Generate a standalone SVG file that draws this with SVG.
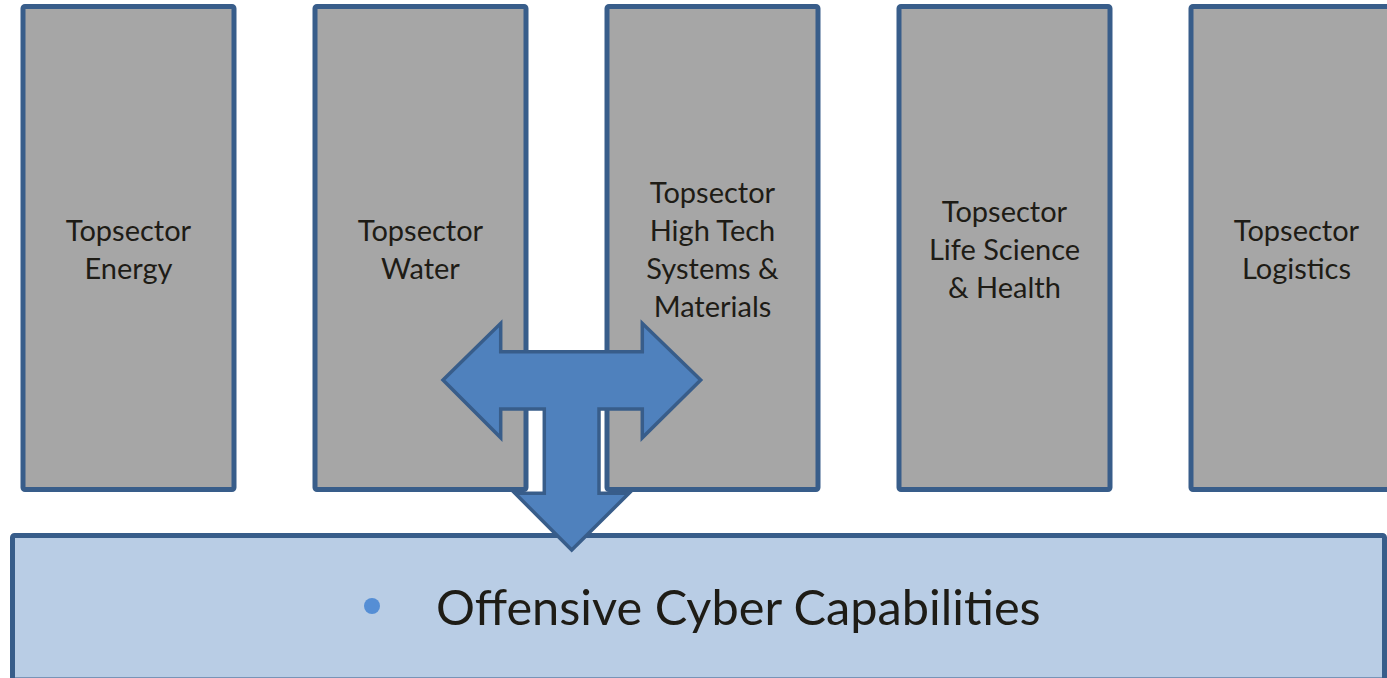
<svg xmlns="http://www.w3.org/2000/svg" width="1387" height="678" viewBox="0 0 1387 678">
<style>
.box{fill:#A6A6A6;stroke:#385D8A;stroke-width:5}
.bar{fill:#B9CDE5;stroke:#385D8A;stroke-width:5}
.lbl{font-family:Lato,"Liberation Sans",sans-serif;font-size:29px;fill:#1e1c16;text-anchor:middle}
.big{font-family:Lato,"Liberation Sans",sans-serif;font-size:48.7px;fill:#1e1c16}
.arrow{fill:#4F81BD;stroke:#385D8A;stroke-width:3.5;stroke-linejoin:miter}
</style>
<rect width="1387" height="678" fill="#ffffff"/>
<g id="energy">
<rect class="box" x="23" y="6.5" width="211" height="483" rx="2"/>
<text class="lbl" x="128.5" y="240.5">Topsector</text>
<text class="lbl" x="128.5" y="278.5">Energy</text>
</g>
<g id="water">
<rect class="box" x="315" y="6.5" width="211" height="483" rx="2"/>
<text class="lbl" x="420.5" y="240.5">Topsector</text>
<text class="lbl" x="420.5" y="278.5">Water</text>
</g>
<g id="hightech">
<rect class="box" x="607" y="6.5" width="211" height="483" rx="2"/>
<text class="lbl" x="712.5" y="202.5">Topsector</text>
<text class="lbl" x="712.5" y="240.5">High Tech</text>
<text class="lbl" x="712.5" y="278.5">Systems &amp;</text>
<text class="lbl" x="712.5" y="317">Materials</text>
</g>
<g id="lifescience">
<rect class="box" x="899" y="6.5" width="211" height="483" rx="2"/>
<text class="lbl" x="1004.5" y="221.5">Topsector</text>
<text class="lbl" x="1004.5" y="259.5">Life Science</text>
<text class="lbl" x="1004.5" y="297.5">&amp; Health</text>
</g>
<g id="logistics">
<rect class="box" x="1191" y="6.5" width="211" height="483" rx="2"/>
<text class="lbl" x="1296.5" y="240.5">Topsector</text>
<text class="lbl" x="1296.5" y="278.5">Logistics</text>
</g>
<g id="offensive">
<rect class="bar" x="12.5" y="535.5" width="1372" height="144.5" rx="2"/>
<circle cx="372" cy="606" r="8" fill="#558ED5"/>
<text class="big" x="436" y="625">Offensive Cyber Capabilities</text>
</g>
<g id="connectors">
<polygon class="arrow" points="443,380 500.7,323.3 500.7,351.7 642.3,351.7 642.3,323.3 700.7,380 642.3,437.7 642.3,409 599,409 599,493.3 629,493.3 571.7,550 515,493.3 544.3,493.3 544.3,409 500.7,409 500.7,437.7"/>
</g>
</svg>
